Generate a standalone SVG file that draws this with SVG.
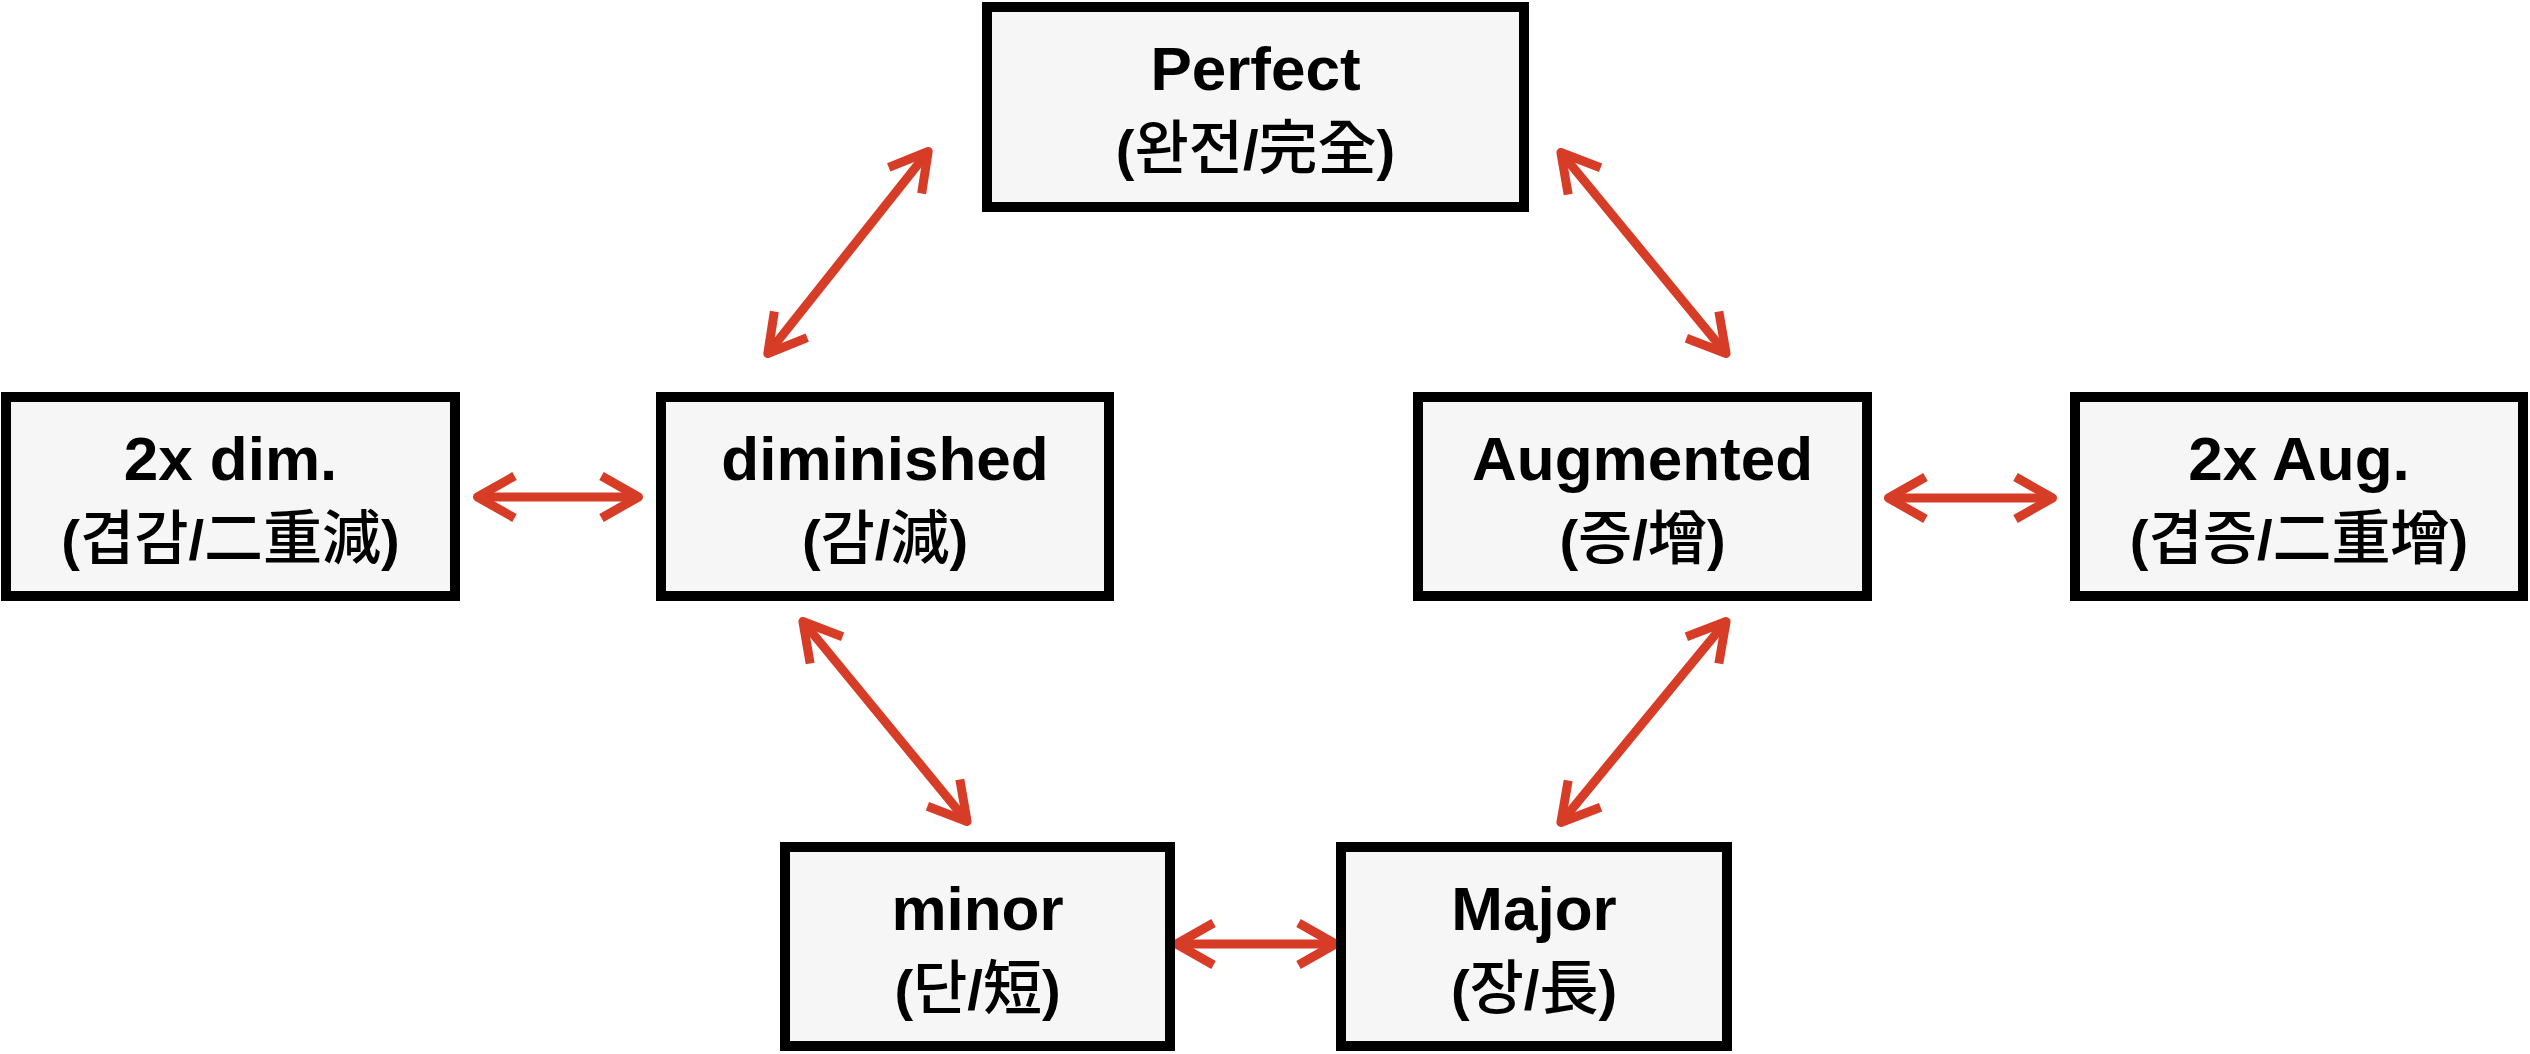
<svg xmlns="http://www.w3.org/2000/svg" width="2530" height="1054" viewBox="0 0 2530 1054">
  <style>
    .box { fill: #f6f6f6; stroke: #000000; stroke-width: 10; }
    .t1 { font-family: "Liberation Sans", "Noto Sans CJK KR", sans-serif; font-size: 62px; font-weight: bold; fill: #000000; text-anchor: middle; }
    .t2 { font-family: "Liberation Sans", "Noto Sans CJK KR", sans-serif; font-size: 56px; font-weight: bold; fill: #000000; text-anchor: middle; }
    .cjk { font-family: "Noto Sans CJK KR", sans-serif; font-weight: 500; font-size: 59px; }
    .conn { fill: none; stroke: #d73c26; stroke-width: 9; }
  </style>
  <defs>
    <marker id="head" markerUnits="userSpaceOnUse" orient="auto-start-reverse" refX="0" refY="0" markerWidth="60" markerHeight="60" viewBox="-50 -30 60 60" overflow="visible">
      <path d="M-37,-21 L0,0 L-37,21" fill="none" stroke="#d73c26" stroke-width="9" stroke-linejoin="round" stroke-linecap="butt"/>
    </marker>
  </defs>

  <g id="connectors">
    <line class="conn" x1="767.8" y1="353.5" x2="928.2" y2="151.5" marker-start="url(#head)" marker-end="url(#head)"/>
    <line class="conn" x1="1560.9" y1="152.5" x2="1726.1" y2="353.5" marker-start="url(#head)" marker-end="url(#head)"/>
    <line class="conn" x1="802.9" y1="621.5" x2="967.1" y2="821.5" marker-start="url(#head)" marker-end="url(#head)"/>
    <line class="conn" x1="1726.1" y1="621.5" x2="1560.9" y2="822.5" marker-start="url(#head)" marker-end="url(#head)"/>
    <line class="conn" x1="477.5" y1="497" x2="638.5" y2="497" marker-start="url(#head)" marker-end="url(#head)"/>
    <line class="conn" x1="1888.5" y1="498" x2="2052.5" y2="498" marker-start="url(#head)" marker-end="url(#head)"/>
    <line class="conn" x1="1176.5" y1="944" x2="1335.5" y2="944" marker-start="url(#head)" marker-end="url(#head)"/>
  </g>

  <g id="perfect">
    <rect class="box" x="987" y="7" width="537" height="200"/>
    <text class="t1" x="1255.5" y="90">Perfect</text>
    <text class="t2" x="1255.5" y="169">(<tspan class="cjk">완전</tspan>/<tspan class="cjk">完全</tspan>)</text>
  </g>

  <g id="dim2x">
    <rect class="box" x="6" y="397" width="449" height="199"/>
    <text class="t1" x="230.5" y="480">2x dim.</text>
    <text class="t2" x="230.5" y="559">(<tspan class="cjk">겹감</tspan>/<tspan class="cjk">二重減</tspan>)</text>
  </g>

  <g id="diminished">
    <rect class="box" x="661" y="397" width="448" height="199"/>
    <text class="t1" x="885" y="480">diminished</text>
    <text class="t2" x="885" y="559">(<tspan class="cjk">감</tspan>/<tspan class="cjk">減</tspan>)</text>
  </g>

  <g id="augmented">
    <rect class="box" x="1418" y="397" width="449" height="199"/>
    <text class="t1" x="1642.5" y="480">Augmented</text>
    <text class="t2" x="1642.5" y="559">(<tspan class="cjk">증</tspan>/<tspan class="cjk">增</tspan>)</text>
  </g>

  <g id="aug2x">
    <rect class="box" x="2075" y="397" width="448" height="199"/>
    <text class="t1" x="2299" y="480">2x Aug.</text>
    <text class="t2" x="2299" y="559">(<tspan class="cjk">겹증</tspan>/<tspan class="cjk">二重增</tspan>)</text>
  </g>

  <g id="minor">
    <rect class="box" x="785" y="847" width="385" height="199"/>
    <text class="t1" x="977.5" y="930">minor</text>
    <text class="t2" x="977.5" y="1009">(<tspan class="cjk">단</tspan>/<tspan class="cjk">短</tspan>)</text>
  </g>

  <g id="major">
    <rect class="box" x="1341" y="847" width="386" height="199"/>
    <text class="t1" x="1534" y="930">Major</text>
    <text class="t2" x="1534" y="1009">(<tspan class="cjk">장</tspan>/<tspan class="cjk">長</tspan>)</text>
  </g>
</svg>
